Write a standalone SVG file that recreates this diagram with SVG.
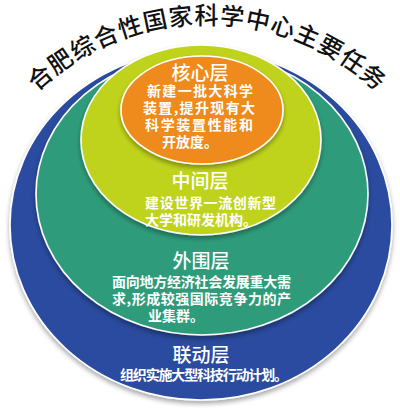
<svg xmlns="http://www.w3.org/2000/svg" width="400" height="414" viewBox="0 0 400 414">
<defs>
<style>
.layer{stroke:#ffffff;stroke-width:1.6}
.title{font-family:"Noto Sans CJK SC","Noto Sans",sans-serif;font-size:24px;font-weight:500;fill:#111111}
.head{font-family:"Noto Sans CJK SC","Noto Sans",sans-serif;font-size:19px;font-weight:500;fill:#ffffff;text-anchor:middle}
.body{font-family:"Noto Sans CJK SC","Noto Sans",sans-serif;font-size:14px;font-weight:700;fill:#ffffff}
</style>
<path id="arc" d="M -6.9,147.5 A 247 247 0 0 1 420.9,147.5"/>
<filter id="sh" x="-10%" y="-10%" width="120%" height="125%">
<feGaussianBlur in="SourceAlpha" stdDeviation="2.5"/>
<feOffset dy="3"/>
<feComponentTransfer><feFuncA type="linear" slope="0.35"/></feComponentTransfer>
<feMerge><feMergeNode/><feMergeNode in="SourceGraphic"/></feMerge>
</filter>
</defs>
<rect width="400" height="414" fill="#ffffff"/>
<text class="title"><textPath href="#arc" startOffset="50%" text-anchor="middle" letter-spacing="1">合肥综合性国家科学中心主要任务</textPath></text>
<g id="layer-outer">
<ellipse class="layer" cx="201" cy="225" rx="191" ry="175" fill="#2c4c9f" filter="url(#sh)"/>
<text class="head" x="201" y="362">联动层</text>
<text class="body" x="120" y="380" font-size="13" textLength="168" lengthAdjust="spacing">组织实施大型科技行动计划。</text>
</g>
<g id="layer-periphery">
<ellipse class="layer" cx="202" cy="194" rx="166" ry="141" fill="#2f9c7a" filter="url(#sh)"/>
<text class="head" x="201" y="268">外围层</text>
<text class="body" x="112" y="287" font-size="13.5" textLength="179" lengthAdjust="spacing">面向地方经济社会发展重大需</text>
<text class="body" x="112" y="304" font-size="13.5" textLength="179" lengthAdjust="spacing">求,形成较强国际竞争力的产</text>
<text class="body" x="148" y="321" font-size="13.5">业集群。</text>
</g>
<g id="layer-middle">
<ellipse class="layer" cx="201" cy="140" rx="120" ry="95" fill="#c0d31b" filter="url(#sh)"/>
<text class="head" x="200" y="188">中间层</text>
<text class="body" x="145" y="208" textLength="131" lengthAdjust="spacing">建设世界一流创新型</text>
<text class="body" x="145" y="225">大学和研发机构。</text>
</g>
<g id="layer-core">
<ellipse class="layer" cx="202" cy="110" rx="81" ry="54" fill="#ee8b1f" filter="url(#sh)"/>
<text class="head" x="200" y="80" font-weight="700">核心层</text>
<text class="body" x="147" y="96" textLength="106" lengthAdjust="spacing">新建一批大科学</text>
<text class="body" x="143" y="113" textLength="112" lengthAdjust="spacing">装置,提升现有大</text>
<text class="body" x="145" y="130" textLength="108" lengthAdjust="spacing">科学装置性能和</text>
<text class="body" x="162" y="147">开放度。</text>
</g>
</svg>
